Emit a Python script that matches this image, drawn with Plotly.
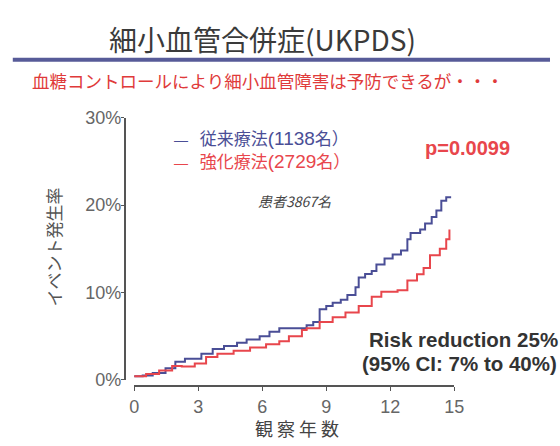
import plotly.graph_objects as go

# Kaplan-Meier style cumulative event rates (years, %)
conv_years = [0, 0.4, 0.87, 1.47, 1.93, 2.38, 3.15, 3.45, 3.68, 4.21, 4.82, 5.27, 5.88,
              6.34, 6.8, 7.7, 8.08, 8.39, 8.69, 9.0, 9.3, 9.68, 9.99, 10.37, 10.52,
              10.82, 11.13, 11.35, 11.73, 12.11, 12.5, 12.8, 12.95, 13.4, 13.63,
              13.94, 14.16, 14.39, 14.62, 14.85]
conv_rate = [0.4, 0.47, 0.77, 1.3, 2.05, 2.4, 2.96, 2.96, 3.5, 3.87, 4.24, 4.6, 4.96,
             5.5, 5.88, 5.88, 6.24, 6.6, 8.07, 8.43, 8.8, 9.17, 9.7, 10.6, 11.7,
             12.1, 12.45, 13.2, 13.9, 14.35, 14.8, 16.1, 16.8, 17.2, 17.9,
             18.65, 19.4, 20.5, 20.9, 20.9]

int_years = [0, 0.56, 1.17, 1.78, 2.23, 2.84, 3.37, 3.9, 4.66, 5.43, 6.18, 6.8, 7.25,
             7.86, 8.08, 8.69, 9.3, 9.9, 10.52, 11.13, 11.58, 12.34, 12.8, 13.25,
             13.56, 13.86, 14.32, 14.62, 14.77]
int_rate = [0.4, 0.66, 1.06, 1.57, 1.5, 1.86, 2.6, 2.96, 3.32, 3.69, 4.05, 4.41, 4.96,
            5.7, 5.9, 6.6, 7.15, 7.7, 8.43, 9.5, 10.08, 10.26, 11.36, 12.08,
            12.8, 14.27, 15.0, 16.1, 17.2]

x_ticks = [0, 3, 6, 9, 12, 15]
y_ticks = [0, 10, 20, 30]
y_tick_text = ["0%", "10%", "20%", "30%"]

BLUE = "#4a4e96"
RED = "#e8464c"
LATIN = "Arial, Liberation Sans, Noto Sans CJK JP"
CJK = "Noto Sans CJK JP, Arial"

W, H = 560, 446


def px(x):
    return x / W


def py(y):
    return 1 - y / H


fig = go.Figure()
fig.add_trace(go.Scatter(x=conv_years, y=conv_rate, mode="lines", line_shape="hv",
                         line=dict(color=BLUE, width=2), showlegend=False))
fig.add_trace(go.Scatter(x=int_years, y=int_rate, mode="lines", line_shape="hv",
                         line=dict(color=RED, width=2), showlegend=False))

fig.update_layout(
    width=W, height=H, autosize=False,
    margin=dict(l=0, r=0, t=0, b=0),
    paper_bgcolor="white", plot_bgcolor="white",
    xaxis=dict(domain=[px(132.7), px(461.7)], range=[0, 15], anchor="free",
               position=py(394), tickvals=x_ticks, ticks="outside", ticklen=4,
               tickcolor="#555", showline=True, linecolor="#555", linewidth=1.5,
               showgrid=False, zeroline=False,
               tickfont=dict(family=LATIN, size=18, color="#666")),
    yaxis=dict(domain=[py(387), py(113)], range=[0, 30], anchor="free",
               position=px(123), tickvals=y_ticks, ticktext=y_tick_text,
               ticks="outside", ticklen=3, tickcolor="#555", showline=True,
               linecolor="#555", linewidth=1.5, showgrid=False, zeroline=False,
               ticklabelstandoff=-4,
               tickfont=dict(family=LATIN, size=18, color="#666")),
)

# header rule
fig.add_shape(type="line", xref="paper", yref="paper", x0=px(8), x1=1,
              y0=py(52), y1=py(52), line=dict(color="#575b98", width=4))


def note(text, x, y, size, color, xanchor="center", family=CJK, angle=0):
    fig.add_annotation(text=text, xref="paper", yref="paper", x=px(x), y=py(y),
                       xanchor=xanchor, yanchor="middle", showarrow=False,
                       textangle=angle,
                       font=dict(family=family, size=size, color=color))


def legend_text(name, count):
    dash = "<span style='font-family:Arial, Liberation Sans;font-size:14px'>—\u00a0\u00a0\u00a0</span>"
    num = f"<span style='font-family:Arial, Liberation Sans;font-size:19px'>({count}</span>"
    return f"{dash}{name}{num}名）"


note("細小血管合併症(UKPDS)", 265, 30, 28, "#3a3a3a")
note("血糖コントロールにより細小血管障害は予防できるが・・・", 270, 74, 17.5, "#e03a3a")
note(legend_text("従来療法", 1138), 172, 133, 17, BLUE, xanchor="left")
note(legend_text("強化療法", 2729), 172, 158, 17, RED, xanchor="left")
note("<i>患者3867名</i>", 297, 200, 14, "#444")
note("<b>p=0.0099</b>", 430, 145, 20, RED, xanchor="left", family=LATIN)
note("<b>Risk reduction 25%</b>", 372, 345, 20.5, "#333", xanchor="left", family=LATIN)
note("<b>(95% CI: 7% to 40%)</b>", 365, 370, 20.5, "#333", xanchor="left", family=LATIN)
note("イベント発生率", 50, 248, 17, "#555", angle=-90)
note("観 察 年 数", 300, 438, 18, "#444")

fig.write_html("out.html")
